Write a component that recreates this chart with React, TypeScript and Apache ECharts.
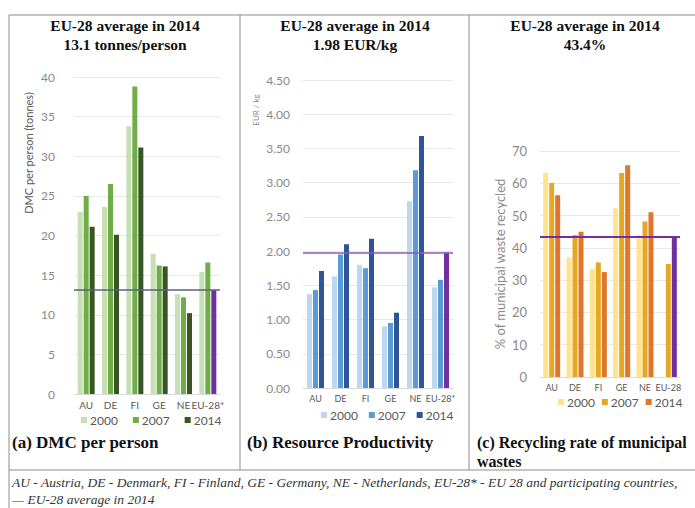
import React, { useEffect, useRef } from "react";
import * as echarts from "echarts";

// Countries shown in every panel
const countries = ["AU", "DE", "FI", "GE", "NE", "EU-28*"];
const countriesC = ["AU", "DE", "FI", "GE", "NE", "EU-28"];
const years = ["2000", "2007", "2014"];

// (a) Domestic material consumption per person, tonnes
const dmc2000 = [23.0, 23.6, 33.8, 17.7, 12.6, 15.4];
const dmc2007 = [25.0, 26.5, 38.8, 16.2, 12.2, 16.6];
const dmc2014 = [21.1, 20.1, 31.1, 16.1, 10.2, 13.1];
const dmcAvg = 13.1;

// (b) Resource productivity, EUR/kg
const rp2000 = [1.37, 1.63, 1.8, 0.9, 2.73, 1.47];
const rp2007 = [1.43, 1.95, 1.75, 0.95, 3.18, 1.58];
const rp2014 = [1.71, 2.1, 2.18, 1.1, 3.68, 1.98];
const rpAvg = 1.98;

// (c) Recycling rate of municipal waste, %
const rec2000 = [63.3, 37.0, 33.5, 52.3, 44.0, null];
const rec2007 = [60.1, 44.0, 35.5, 63.2, 48.2, 35.0];
const rec2014 = [56.3, 45.0, 32.5, 65.6, 51.0, 43.4];
const recAvg = 43.4;

const titlesLine2 = ["13.1 tonnes/person", "1.98 EUR/kg", "43.4%"];
const titleLine1 = "EU-28 average in 2014";
const panelLabels = ["(a) DMC per person", "(b) Resource Productivity", "(c) Recycling rate of municipal"];
const footnote1 =
  "AU - Austria, DE - Denmark, FI - Finland, GE - Germany, NE - Netherlands, EU-28* - EU 28 and participating countries,";
const footnote2 = "\u2014 EU-28 average in 2014";

const EU_COLOR = "#7030a0";
const SANS = "Lato, 'Noto Sans', sans-serif";
const SERIF = "'Liberation Serif', 'DejaVu Serif', serif";

const paletteA = ["#c5e0b4", "#70ad47", "#375623"];
const paletteB = ["#bdd7ee", "#5b9bd5", "#2f5597"];
const paletteC = ["#ffe38f", "#e5a823", "#e0762c"];

function withEu(values: (number | null)[]) {
  return values.map((v, i) =>
    i === values.length - 1 ? { value: v, itemStyle: { color: EU_COLOR } } : v
  );
}

export default function App() {
  const ref = useRef<HTMLDivElement>(null);

  useEffect(() => {
    if (!ref.current) return;
    const chart = echarts.init(ref.current, undefined, { renderer: "svg" });

    const axisLabel = (size: number) => ({ color: "#8a8a8a", fontSize: size, fontFamily: SANS });
    const splitLine = { show: true, lineStyle: { color: "#e8e8e8", width: 1 } };

    const xAxisBase = (idx: number, data: string[], size: number) => ({
      type: "category",
      gridIndex: idx,
      data,
      axisTick: { show: false },
      axisLine: { lineStyle: { color: "#d9d9d9" } },
      axisLabel: { ...axisLabel(size), color: "#595959", margin: 6, interval: 0 },
    });

    const barSeries = (
      prefix: string,
      idx: number,
      sets: (number | null)[][],
      palette: string[],
      avg: number,
      avgColor: string,
      avgWidth: number,
      barWidth: number
    ) =>
      sets.map((vals, k) => ({
        name: prefix + years[k],
        type: "bar",
        xAxisIndex: idx,
        yAxisIndex: idx,
        barWidth,
        barGap: "20%",
        itemStyle: { color: palette[k] },
        data: k === 2 ? withEu(vals) : vals,
        ...(k === 2
          ? {
              markLine: {
                silent: true,
                symbol: "none",
                label: { show: false },
                lineStyle: { color: avgColor, width: avgWidth, type: "solid" },
                data: [{ yAxis: avg }],
              },
            }
          : {}),
      }));

    const legend = (prefix: string, left: number, top: number, gap: number, size: number) => ({
      data: years.map((y) => prefix + y),
      left,
      top,
      itemWidth: 6,
      itemHeight: 6,
      itemGap: gap,
      icon: "rect",
      selectedMode: false,
      formatter: (n: string) => n.slice(1),
      textStyle: { color: "#595959", fontSize: size, fontFamily: SANS, padding: [0, 0, 0, -2] },
    });

    const text = (
      x: number,
      y: number,
      t: string,
      font: string,
      fill: string,
      align = "center",
      rotation = 0
    ) => ({
      type: "text",
      x,
      y,
      rotation,
      silent: true,
      style: { text: t, font, fill, align, verticalAlign: "middle" },
    });

    const line = (x1: number, y1: number, x2: number, y2: number) => ({
      type: "line",
      silent: true,
      shape: { x1, y1, x2, y2 },
      style: { stroke: "#8c8c8c", lineWidth: 1 },
    });

    const titleFont = `bold 15.5px ${SERIF}`;
    const labelFont = `bold 17px ${SERIF}`;
    const labelFontC = `bold 16px ${SERIF}`;
    const centers = [125, 355, 585];

    chart.setOption({
      animation: false,
      backgroundColor: "#ffffff",
      grid: [
        { left: 74, top: 77, width: 146, height: 317 },
        { left: 303, top: 80, width: 150, height: 308 },
        { left: 540, top: 151, width: 140, height: 226 },
      ],
      xAxis: [
        xAxisBase(0, countries, 10),
        xAxisBase(1, countries, 9),
        xAxisBase(2, countriesC, 9),
      ],
      yAxis: [
        {
          type: "value",
          gridIndex: 0,
          min: 0,
          max: 40,
          interval: 5,
          axisLabel: { ...axisLabel(12), margin: 19 },
          splitLine,
        },
        {
          type: "value",
          gridIndex: 1,
          min: 0,
          max: 4.5,
          interval: 0.5,
          axisLabel: { ...axisLabel(12), margin: 13, formatter: (v: number) => v.toFixed(2) },
          splitLine,
        },
        {
          type: "value",
          gridIndex: 2,
          min: 0,
          max: 70,
          interval: 10,
          axisLabel: { ...axisLabel(13), margin: 13 },
          splitLine,
        },
      ],
      legend: [
        legend("a", 76, 409, 15, 12),
        legend("b", 316, 404, 11, 12),
        legend("c", 553, 391, 7, 12),
      ],
      series: [
        ...barSeries("a", 0, [dmc2000, dmc2007, dmc2014], paletteA, dmcAvg, "#5e5e7e", 1.5, 5),
        ...barSeries("b", 1, [rp2000, rp2007, rp2014], paletteB, rpAvg, "#8a5cb8", 1.5, 5),
        ...barSeries("c", 2, [rec2000, rec2007, rec2014], paletteC, recAvg, EU_COLOR, 2, 5),
      ],
      graphic: [
        // table frame
        line(9, 15, 695, 15),
        line(9, 15, 9, 508),
        line(240, 15, 240, 470),
        line(469, 15, 469, 470),
        line(9, 470, 695, 470),
        // panel headings
        ...centers.map((cx) => text(cx, 25, titleLine1, titleFont, "#111111")),
        ...centers.map((cx, i) => text(cx, 44, titlesLine2[i], titleFont, "#111111")),
        // axis names
        text(28, 153, "DMC per person (tonnes)", `11px ${SANS}`, "#595959", "center", Math.PI / 2),
        text(256, 110, "EUR / kg", `8px ${SANS}`, "#8a8a8a", "center", Math.PI / 2),
        text(500, 264, "% of municipal waste recycled", `13px ${SANS}`, "#8a8a8a", "center", Math.PI / 2),
        // panel captions
        text(12, 442, panelLabels[0], labelFont, "#111111", "left"),
        text(247, 442, panelLabels[1], labelFont, "#111111", "left"),
        text(477, 442, panelLabels[2], labelFontC, "#111111", "left"),
        text(477, 461, "wastes", labelFontC, "#111111", "left"),
        // footnote
        text(12, 482, footnote1, `italic 13.5px ${SERIF}`, "#333333", "left"),
        text(12, 499, footnote2, `italic 13.5px ${SERIF}`, "#333333", "left"),
      ],
    });

    return () => chart.dispose();
  }, []);

  return (
    <div
      ref={ref}
      style={{ position: "absolute", left: 0, top: 0, width: 695, height: 508 }}
    />
  );
}
